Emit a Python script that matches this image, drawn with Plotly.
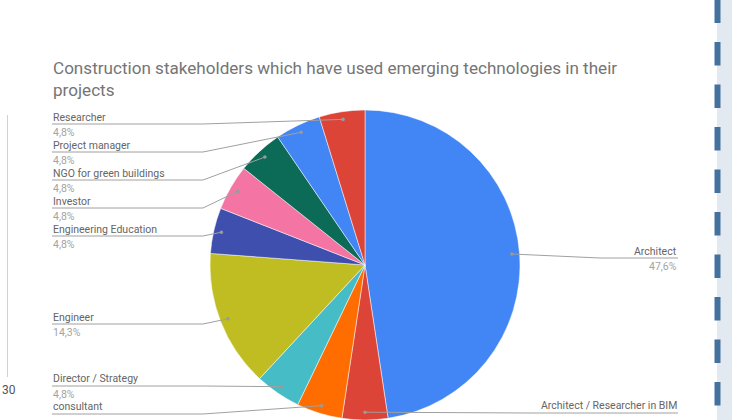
import math
import plotly.graph_objects as go

# Respondents by role (count of answers)
roles = [
    "Architect",
    "Architect / Researcher in BIM",
    "consultant",
    "Director / Strategy",
    "Engineer",
    "Engineering Education",
    "Investor",
    "NGO for green buildings",
    "Project manager",
    "Researcher",
]
counts = [10, 1, 1, 1, 3, 1, 1, 1, 1, 1]

title_text = "Construction stakeholders which have used emerging technologies in their<br>projects"

# Styling
slice_colors = [
    "#4285F4", "#DB4437", "#FF6D00", "#46BDC6", "#BFBD22",
    "#3E4FAE", "#F474A4", "#0B6B56", "#4285F4", "#DB4437",
]
W, H = 732, 420
FONT = "Roboto, Arial, sans-serif"
LEADER = "#a0a0a0"

# Pie placement (pixels)
cx, R = 365.0, 155.0
top_px = H - 2 * R
cy = top_px + R

# Label rows: (side, label centre y, underline y, percent y, knee x)
label_rows = {
    "Architect": ("right", 251, 258, 266, 600),
    "Architect / Researcher in BIM": ("right", 405, 413, 421, 530),
    "consultant": ("left", 406, 414, 422, 203),
    "Director / Strategy": ("left", 378, 386, 394, 203),
    "Engineer": ("left", 317, 324, 332, 203),
    "Engineering Education": ("left", 229, 236, 244, 203),
    "Investor": ("left", 201, 208, 216, 203),
    "NGO for green buildings": ("left", 173, 180, 188, 203),
    "Project manager": ("left", 145, 152, 160, 203),
    "Researcher": ("left", 117, 124, 132, 203),
}
LEFT_X, RIGHT_X = 52, 678

fig = go.Figure()
fig.add_trace(go.Pie(
    labels=roles,
    values=counts,
    sort=False,
    direction="clockwise",
    rotation=0,
    marker=dict(colors=slice_colors, line=dict(color="white", width=0.5)),
    textinfo="none",
    hoverinfo="label+percent",
    showlegend=False,
    domain=dict(x=[(cx - R) / W, (cx + R) / W], y=[0, 1 - top_px / H]),
))

shapes = []
annotations = []

# Background decorations at the edges
shapes.append(dict(type="rect", xref="x", yref="y", x0=717, x1=W, y0=0, y1=H,
                   fillcolor="#e2e9f1", line=dict(width=0), layer="below"))
shapes.append(dict(type="line", xref="x", yref="y", x0=717.5, x1=717.5, y0=-0.5, y1=H,
                   line=dict(color="#44729e", width=6, dash="23.5px,19px")))
shapes.append(dict(type="line", xref="x", yref="y", x0=7.5, x1=7.5, y0=115, y1=377,
                   line=dict(color="#d2d2d2", width=1)))
annotations.append(dict(x=0, y=390, xref="x", yref="y", text="30", showarrow=False,
                        xanchor="left", yanchor="middle",
                        font=dict(family=FONT, size=12, color="#555555")))

# Title
annotations.append(dict(x=LEFT_X - 1, y=56, xref="x", yref="y", text=title_text,
                        showarrow=False, xanchor="left", yanchor="top", align="left",
                        font=dict(family=FONT, size=17.1, color="#757575")))

# Leader lines, dots and labels derived from slice angles
total = sum(counts)
cum = 0
for name, v in zip(roles, counts):
    mid = (cum + v / 2) / total * 2 * math.pi
    cum += v
    dx = cx + 0.95 * R * math.sin(mid)
    dy = cy - 0.95 * R * math.cos(mid)
    side, ly, uy, py, kx = label_rows[name]
    pct = f"{v / total * 100:.1f}".replace(".", ",") + "%"
    tx = LEFT_X if side == "left" else RIGHT_X
    shapes.append(dict(type="path", xref="x", yref="y",
                       path=f"M {tx},{uy} L {kx},{uy} L {dx:.1f},{dy:.1f}",
                       line=dict(color=LEADER, width=1)))
    shapes.append(dict(type="circle", xref="x", yref="y",
                       x0=dx - 1.8, x1=dx + 1.8, y0=dy - 1.8, y1=dy + 1.8,
                       fillcolor="#9a9a9a", line=dict(width=0)))
    anchor = "left" if side == "left" else "right"
    annotations.append(dict(x=tx - 1 if side == "left" else tx + 1, y=ly, xref="x", yref="y",
                            text=name, showarrow=False,
                            xanchor=anchor, yanchor="middle",
                            font=dict(family=FONT, size=10.5, color="#656565")))
    annotations.append(dict(x=tx - 1 if side == "left" else tx + 1, y=py, xref="x", yref="y",
                            text=pct, showarrow=False,
                            xanchor=anchor, yanchor="middle",
                            font=dict(family=FONT, size=10.5, color="#a3a3a3")))

fig.update_layout(
    width=W, height=H,
    margin=dict(l=0, r=0, t=0, b=0),
    paper_bgcolor="white", plot_bgcolor="rgba(0,0,0,0)",
    xaxis=dict(range=[0, W], visible=False, fixedrange=True),
    yaxis=dict(range=[H, 0], visible=False, fixedrange=True),
    shapes=shapes,
    annotations=annotations,
    showlegend=False,
)

fig.write_html("out.html")
